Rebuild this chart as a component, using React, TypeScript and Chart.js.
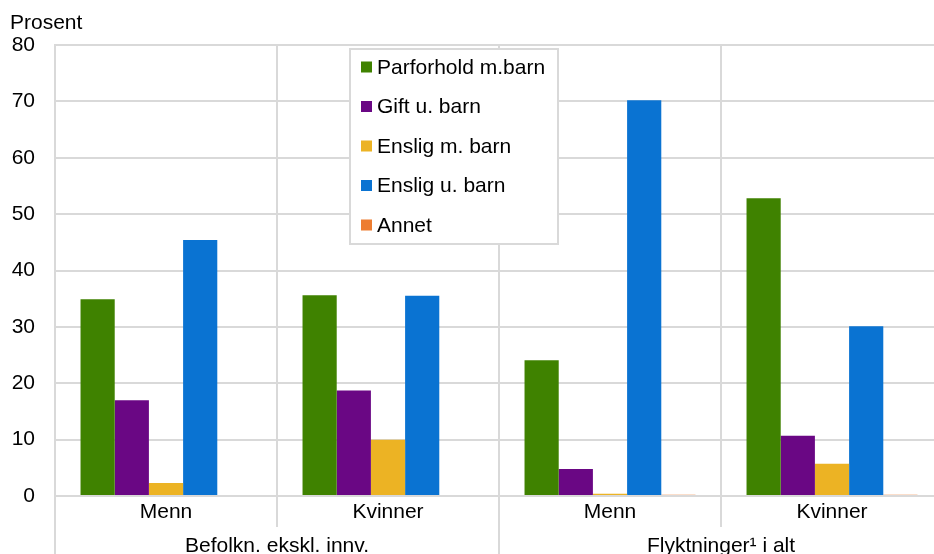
import React, { useEffect, useRef } from "react";
import { Chart, registerables } from "chart.js";

Chart.register(...registerables);

const categories = ["Menn", "Kvinner", "Menn", "Kvinner"];
const groupLabels = ["Befolkn. ekskl. innv.", "Flyktninger¹ i alt"];
const seriesNames = ["Parforhold m.barn", "Gift u. barn", "Enslig m. barn", "Enslig u. barn", "Annet"];
const parforholdMedBarn = [34.9, 35.6, 24.1, 52.8];
const giftUtenBarn = [17.0, 18.7, 4.8, 10.7];
const ensligMedBarn = [2.3, 10.0, 0.4, 5.7];
const ensligUtenBarn = [45.4, 35.5, 70.2, 30.1];
const annet = [0, 0, 0.2, 0.2];
const seriesColors = ["#3f8200", "#6a0784", "#ecb324", "#0a73d2", "#ed7d31"];
const yTickValues = [0, 10, 20, 30, 40, 50, 60, 70, 80];
const yTitle = "Prosent";

const FONT = "'Liberation Sans', Arial, sans-serif";
const FS = 21;
const GRID = "#d9d9d9";

export default function App() {
  const ref = useRef<HTMLCanvasElement>(null);

  useEffect(() => {
    const canvas = ref.current!;
    const series = [parforholdMedBarn, giftUtenBarn, ensligMedBarn, ensligUtenBarn, annet];

    const extras = {
      id: "extras",
      afterDraw(chart: any) {
        const ctx = chart.ctx;
        const { left, right, bottom } = chart.chartArea;
        const h = chart.height;
        const n = categories.length;
        const w = (right - left) / n;
        ctx.save();
        // extended category separators below the axis
        ctx.strokeStyle = GRID;
        ctx.lineWidth = 2;
        for (let i = 0; i <= n; i++) {
          const x = left + i * w;
          const yEnd = i % 2 === 0 ? h : bottom + 31;
          ctx.beginPath();
          ctx.moveTo(x, bottom);
          ctx.lineTo(x, yEnd);
          ctx.stroke();
        }
        // group labels
        ctx.fillStyle = "#000";
        ctx.font = `${FS}px ${FONT}`;
        ctx.textAlign = "center";
        ctx.textBaseline = "alphabetic";
        groupLabels.forEach((g, gi) => {
          const cx = left + (gi * 2 + 1) * w;
          ctx.fillText(g, cx, 552);
        });
        // y title
        ctx.textAlign = "left";
        ctx.fillText(yTitle, 10, 29);
        // legend box
        const bx = 350, by = 49, bw = 208, bh = 195;
        ctx.fillStyle = "#fff";
        ctx.fillRect(bx, by, bw, bh);
        ctx.strokeStyle = GRID;
        ctx.lineWidth = 2;
        ctx.strokeRect(bx, by, bw, bh);
        ctx.textBaseline = "middle";
        seriesNames.forEach((name, i) => {
          const cy = 67 + i * 39.5;
          ctx.fillStyle = seriesColors[i];
          ctx.fillRect(361, cy - 5.5, 11, 11);
          ctx.fillStyle = "#000";
          ctx.fillText(name, 377, cy + 1);
        });
        ctx.restore();
      },
    };

    const chart = new Chart(canvas, {
      type: "bar",
      data: {
        labels: categories,
        datasets: seriesNames.map((name, i) => ({
          label: name,
          data: series[i],
          backgroundColor: seriesColors[i],
          borderWidth: 0,
          categoryPercentage: 0.77,
          barPercentage: 1,
        })),
      },
      options: {
        responsive: false,
        animation: false,
        devicePixelRatio: 1,
        layout: { padding: { top: 45, left: 0, right: 0, bottom: 0 } },
        plugins: {
          legend: { display: false },
          tooltip: { enabled: false },
        },
        scales: {
          x: {
            offset: true,
            grid: { display: true, offset: true, drawTicks: false, color: GRID, lineWidth: 2 },
            border: { display: true, color: GRID, width: 2 },
            ticks: { color: "#000", font: { family: FONT, size: FS }, padding: 4, maxRotation: 0 },
            afterFit(scale: any) {
              scale.height = 58;
            },
          },
          y: {
            min: 0,
            max: 80,
            afterBuildTicks(scale: any) {
              scale.ticks = yTickValues.map((v) => ({ value: v }));
            },
            grid: { color: GRID, lineWidth: 2, drawTicks: false },
            border: { display: true, color: GRID, width: 2 },
            ticks: { color: "#000", font: { family: FONT, size: FS }, padding: 20 },
            afterFit(scale: any) {
              scale.width = 55;
            },
          },
        },
      },
      plugins: [extras],
    });
    return () => chart.destroy();
  }, []);

  return (
    <div style={{ position: "fixed", left: 0, top: 0, width: 934, height: 554, overflow: "hidden", background: "#fff" }}>
      <canvas ref={ref} width={943} height={554} style={{ display: "block", width: 943, height: 554 }} />
    </div>
  );
}
